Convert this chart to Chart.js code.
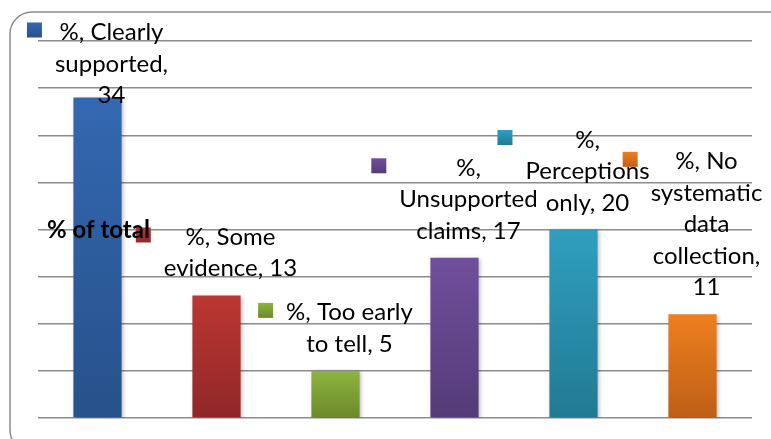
<!DOCTYPE html>
<html>
<head>
<meta charset="utf-8">
<script src="https://cdn.jsdelivr.net/npm/chart.js@4"></script>
<style>
  html, body { margin: 0; padding: 0; background: #fff; }
  #wrap { width: 771px; height: 439px; position: relative; }
</style>
</head>
<body>
<div id="wrap"><canvas id="chart"></canvas></div>
<script>
const seriesName = '%';
const axisTitle = '% of total';
const categories = ['Clearly supported', 'Some evidence', 'Too early to tell', 'Unsupported claims', 'Perceptions only', 'No systematic data collection'];
const values = [34, 13, 5, 17, 20, 11];
const yTicks = [0, 5, 10, 15, 20, 25, 30, 35, 40];

const topColors = ['#3368b0', '#bc3733', '#8db43e', '#704f9b', '#2f9fbf', '#ef7f1f'];
const bottomColors = ['#27518a', '#8f2727', '#6b8a2c', '#553b78', '#217a93', '#bd5f17'];

const FONT = '24px Lato';
const LINE_H = 31.5;

function barGradient(ctx) {
    const chart = ctx.chart;
    const area = chart.chartArea;
    const i = ctx.dataIndex;
    if (!area) return topColors[i];
    const top = chart.scales.y.getPixelForValue(values[i]);
    const g = chart.ctx.createLinearGradient(0, top, 0, area.bottom);
    g.addColorStop(0, topColors[i]);
    g.addColorStop(1, bottomColors[i]);
    return g;
}

function wrap(c, text, maxW) {
    const words = text.split(' ');
    const lines = [];
    let cur = '';
    for (const w of words) {
        const test = cur ? cur + ' ' + w : w;
        if (cur && c.measureText(test).width > maxW) { lines.push(cur); cur = w; }
        else cur = test;
    }
    if (cur) lines.push(cur);
    return lines;
}

// rounded frame round the whole chart
const framePlugin = {
    id: 'frame',
    beforeDraw(chart) {
        const c = chart.ctx;
        c.save();
        c.strokeStyle = '#8c8c8c';
        c.lineWidth = 1.5;
        c.beginPath();
        c.roundRect(10, 12, 790, 440, 22);
        c.stroke();
        c.restore();
    }
};

// soft shadow under the bars
const shadowPlugin = {
    id: 'barShadow',
    beforeDatasetDraw(chart) {
        const c = chart.ctx;
        c.save();
        c.shadowColor = 'rgba(0,0,0,0.28)';
        c.shadowBlur = 4;
        c.shadowOffsetX = 1.5;
        c.shadowOffsetY = 1.5;
    },
    afterDatasetDraw(chart) { chart.ctx.restore(); }
};

// Excel style data labels with legend keys, plus the axis title
const labelPlugin = {
    id: 'labels',
    afterDatasetsDraw(chart) {
        const c = chart.ctx;
        const area = chart.chartArea;
        const meta = chart.getDatasetMeta(0);
        c.save();
        c.font = FONT;
        const scale = c.measureText('evidence, 13').width / 131;
        const baseW = 136 * scale;

        meta.data.forEach((bar, i) => {
            const text = `${seriesName}, ${categories[i]}, ${values[i]}`;
            let tx = bar.x + 14;
            const edgeW = 2 * (chart.width - 6 - tx);
            const lines = wrap(c, text, Math.min(baseW, edgeW));
            const maxW = Math.max(...lines.map(l => c.measureText(l).width));
            tx = Math.min(tx, chart.width - 5 - maxW / 2);
            let first = bar.y - 19 - (lines.length - 1) * LINE_H;
            if (first < area.top - 1) first = area.top - 1;

            c.fillStyle = '#000';
            c.textAlign = 'center';
            c.textBaseline = 'alphabetic';
            lines.forEach((l, k) => c.fillText(l, tx, first + k * LINE_H));

            // legend key
            const sx = tx - maxW / 2 - 13 - 15;
            const sy = first - 10 - 7.5;
            const g = c.createLinearGradient(0, sy, 0, sy + 15);
            g.addColorStop(0, topColors[i]);
            g.addColorStop(1, bottomColors[i]);
            c.fillStyle = g;
            c.fillRect(sx, sy, 15, 15);
        });

        c.font = 'bold 24px Lato';
        c.fillStyle = '#000';
        c.textAlign = 'left';
        c.textBaseline = 'middle';
        c.fillText(axisTitle, area.left + 9, (area.top + area.bottom) / 2 + 1);
        c.restore();
    }
};

new Chart(document.getElementById('chart'), {
    type: 'bar',
    data: {
        labels: categories,
        datasets: [{
            label: seriesName,
            data: values,
            backgroundColor: barGradient,
            borderWidth: 0,
            categoryPercentage: 1,
            barPercentage: 0.405
        }]
    },
    options: {
        responsive: true,
        maintainAspectRatio: false,
        animation: false,
        layout: { padding: { left: 38, right: 19, top: 41, bottom: 21 } },
        plugins: { legend: { display: false }, tooltip: { enabled: false } },
        scales: {
            x: {
                display: false
            },
            y: {
                min: yTicks[0],
                max: yTicks[yTicks.length - 1],
                afterBuildTicks(axis) { axis.ticks = yTicks.map(v => ({ value: v })); },
                ticks: { display: false },
                grid: { color: '#8c8c8c', lineWidth: 1.5, drawTicks: false },
                border: { display: false }
            }
        }
    },
    plugins: [framePlugin, shadowPlugin, labelPlugin]
});
</script>
</body>
</html>
